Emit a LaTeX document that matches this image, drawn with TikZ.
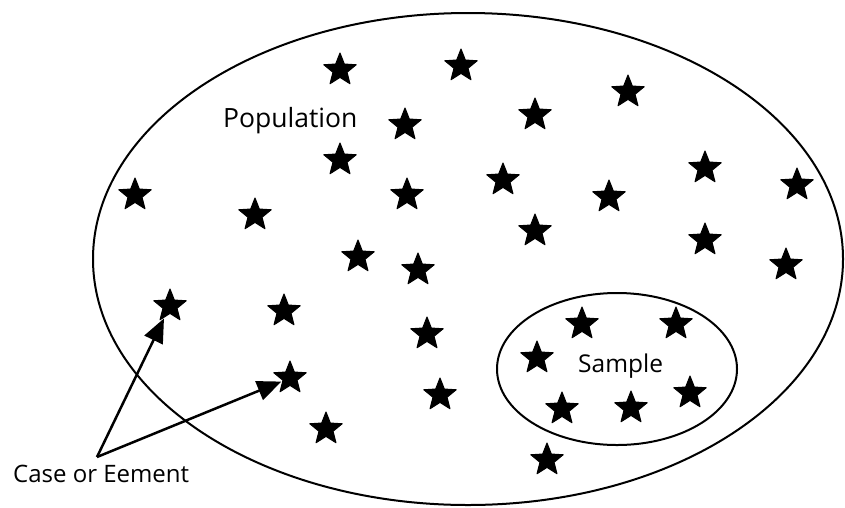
\documentclass[tikz,border=0pt]{standalone}
\usepackage{fontspec}
\setmainfont{Open Sans}
\usetikzlibrary{shapes.geometric,arrows.meta}
\begin{document}
\begin{tikzpicture}[x=1pt,y=-1pt,
  starmark/.style={star, star points=5, star point ratio=2.3, fill=black,
    draw=black, line width=1pt, line join=round, inner sep=0pt, minimum size=34pt},
  setline/.style={line width=2pt},
  label/.style={inner sep=0pt},
  pointer/.style={line width=2.5pt, shorten >=1pt,
    -{Triangle[length=24pt,width=20pt]}}]
\useasboundingbox (0,0) rectangle (845,507);
\fill[white] (0,0) rectangle (845,507);

% population and sample outlines
\draw[setline] (468,259) ellipse [x radius=375, y radius=246];
\draw[setline] (617,369) ellipse [x radius=120, y radius=76];

% labels
\node[label, anchor=base west, font=\fontsize{26.5}{30}\selectfont] (pop) at (223,127) {Population};
\node[label, anchor=base west, font=\fontsize{24.5}{28}\selectfont] (smp) at (578,372) {Sample};
\node[label, anchor=base west, font=\fontsize{24}{28}\selectfont] (case) at (13,482) {Case or Eement};

% members of the population
\foreach \n/\x/\y in {
  p1/340/70, p2/461/66, p3/628/92, p4/535/115, p5/405/125, p6/340/160,
  p7/705/168, p8/503/180, p9/407/195, p10/609/197, p11/797/185,
  p12/135/195, p13/255/215, p14/535/231, p15/705/240, p16/358/257,
  p17/418/270, p18/786/265, p19/170/306, p20/284/311, p21/427/334,
  p22/290/378, p23/440/395, p24/326/429, p25/547/460}
  \node[starmark] (\n) at (\x,\y) {};

% members of the sample
\foreach \n/\x/\y in {
  s1/582/324, s2/676/324, s3/537/358, s4/562/409, s5/631/408, s6/690/393}
  \node[starmark] (\n) at (\x,\y) {};

% pointers from the label to two cases
\coordinate (origin) at (97,457);
\draw[pointer] (origin) -- (p19);
\draw[pointer] (origin) -- (p22);
\end{tikzpicture}
\end{document}
